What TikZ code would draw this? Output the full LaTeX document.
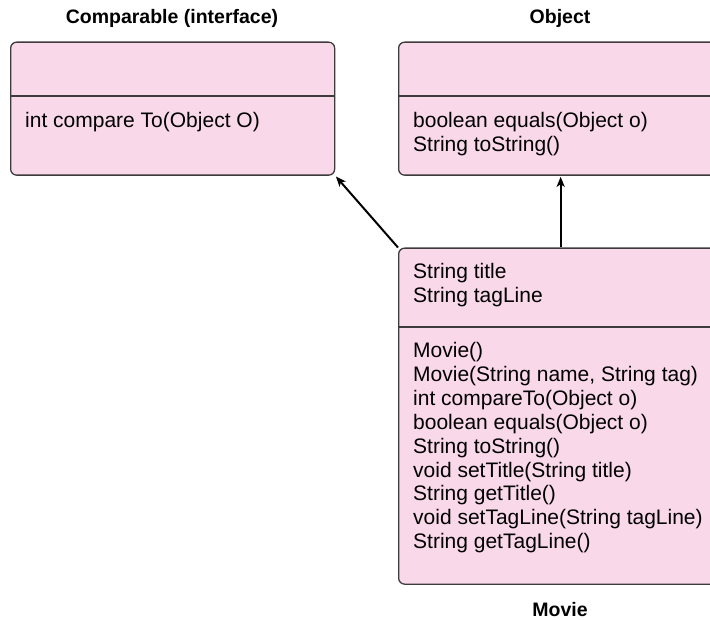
\documentclass[tikz,border=0pt]{standalone}
\usepackage{fontspec}
\setmainfont{Liberation Sans}
\usetikzlibrary{arrows.meta}
\definecolor{boxpink}{RGB}{249,216,234}
\definecolor{boxline}{RGB}{60,60,60}
\tikzset{
  umlbox/.style={draw=boxline, fill=boxpink, line width=1.3pt, rounded corners=6pt,
    minimum width=324pt, inner sep=0pt, anchor=north west},
  divider/.style={draw=boxline, line width=1.3pt},
  member/.style={anchor=base west, inner sep=0pt, font=\fontsize{21}{24}\selectfont},
  title/.style={anchor=base, inner sep=0pt, font=\fontsize{19.5}{23}\selectfont\bfseries},
  arr/.style={line width=2pt, -{Stealth[length=10pt,width=8pt,inset=2.5pt]}, shorten >=1pt}
}
\begin{document}
\begin{tikzpicture}[x=1pt,y=-1pt]
\useasboundingbox (0,0) rectangle (710,620);
\clip (0,0) rectangle (710,620);
% Comparable
\node[umlbox, minimum height=133pt] (cmp) at (10,41.5) {};
\draw[divider] ([yshift=-54.5pt]cmp.north west) -- ([yshift=-54.5pt]cmp.north east);
\node[title] (cmpt) at (172,24) {Comparable (interface)};
\node[member] (cmp1) at (25,128) {int compare To(Object O)};
% Object
\node[umlbox, minimum height=133pt] (obj) at (398,41.5) {};
\draw[divider] ([yshift=-54.5pt]obj.north west) -- ([yshift=-54.5pt]obj.north east);
\node[title] (objt) at (560,24) {Object};
\node[member] (obj1) at (413,128) {boolean equals(Object o)};
\node[member] (obj2) at (413,152) {String toString()};
% Movie
\node[umlbox, minimum height=336pt] (mov) at (398,247.5) {};
\draw[divider] ([yshift=-79.5pt]mov.north west) -- ([yshift=-79.5pt]mov.north east);
\node[title] (movt) at (560,616.5) {Movie};
\node[member] (a1) at (413,278.5) {String title};
\node[member] (a2) at (413,302.5) {String tagLine};
\foreach \t [count=\i from 0] in {Movie(),
    {Movie(String name, String tag)},
    int compareTo(Object o),
    boolean equals(Object o),
    String toString(),
    void setTitle(String title),
    String getTitle(),
    void setTagLine(String tagLine),
    String getTagLine()}
  \node[member] (m\i) at (413,357.5+23.9*\i) {\t};
% connectors
\draw[arr] (mov.north west) -- (cmp.south east);
\draw[arr] (mov.north) -- (obj.south);
\end{tikzpicture}
\end{document}
